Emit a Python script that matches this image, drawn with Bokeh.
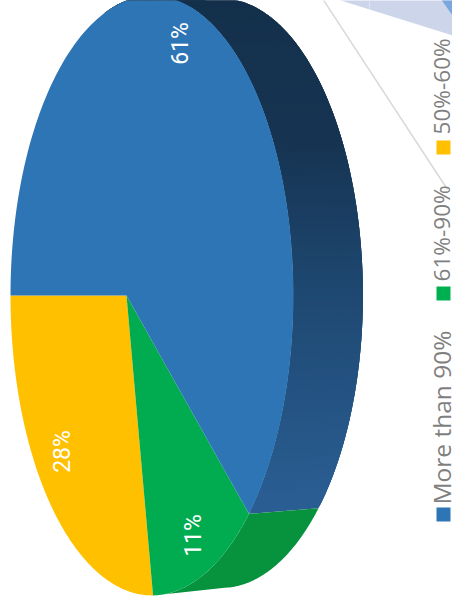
import numpy as np
from bokeh.models import ColumnDataSource, Range1d
from bokeh.plotting import figure
from bokeh.embed import file_html
from bokeh.resources import INLINE
from bokeh.core.properties import value as fixed

# Shares of respondents per band, in percent
categories = ["50%-60%", "61%-90%", "More than 90%"]
shares = [28, 11, 61]
share_labels = ["28%", "11%", "61%"]
top_colors = ["#FFC000", "#00AC4F", "#2E75B5"]
side_green = "#07933E"
side_blue_ramp = [(-10, (20, 48, 75)), (150, (22, 52, 82)), (300, (30, 72, 113)), (520, (43, 95, 149))]

legend_names = ["More than 90%", "61%-90%", "50%-60%"]
legend_colors = ["#2E75B5", "#00B050", "#FFC000"]
legend_bottom = [521, 300, 154]
legend_text_pos = [504, 281, 134]
label_pos = [(62, 451), (193, 535), (180, 43)]

W, H = 452, 610
p = figure(width=W, height=H, output_backend="svg", toolbar_location=None,
           x_range=Range1d(0, W), y_range=Range1d(H, 0), min_border=0,
           outline_line_color=None, background_fill_color="white", border_fill_color="white")
p.axis.visible = False
p.grid.visible = False

# Projection of the unit disc onto the tilted pie face
A, B, K, C, CY = 114.2, 126.0, -0.18, 295.0, 295.0
DX, SY_LOW, SY_HIGH = 69.5, 0.975, 0.99


def face(phi):
    x, y = -np.cos(phi), np.sin(phi)
    w = 1 + K * x
    return (A * x + B) / w, CY + C * y / w


def rim(phi):
    x, y = face(phi)
    return x + DX, CY + np.where(y > CY, SY_LOW, SY_HIGH) * (y - CY)


def ramp(y):
    ys = [s[0] for s in side_blue_ramp]
    rgb = [np.interp(y, ys, [s[1][i] for s in side_blue_ramp]) for i in range(3)]
    return "#%02x%02x%02x" % tuple(int(round(v)) for v in rgb)


edges = np.radians(np.cumsum([0] + shares) * 3.6)

# Pale slice and leader line of the neighbouring pie, cut by the page edge
p.patch([334, 452, 452, 334], [-2, 35, -2, -2], fill_color="#CDD5EA", line_color=None)
p.segment([369], [-2], [369], [8], line_color="#DDE3F1", line_width=1)
p.patch([440, 452, 452], [-2, 15, -2], fill_color="#7BA7DC", line_color=None)
p.segment([322], [-2], [447], [189], line_color="#D9D9D9", line_width=1.5)

# Side wall: the blue share as overlapping strips so the shading has no seams
step = np.radians(0.6)
ph = np.arange(edges[2], np.radians(278), step)
for a in ph[::-1]:
    b = a + 3 * step
    arc = np.linspace(a, b, 4)
    fx, fy = face(arc)
    rx, ry = rim(arc)
    p.patch(np.r_[fx, rx[::-1]], np.r_[fy, ry[::-1]], fill_color=ramp((fy[0] + ry[0]) / 2), line_color=None)

# Side wall of the green share, laid over the blue strip ends
ph = np.linspace(edges[1], edges[2], 60)
fx, fy = face(ph)
rx, ry = rim(ph)
p.patch(np.r_[fx, rx[::-1]], np.r_[fy, ry[::-1]], fill_color=side_green, line_color=None)

# Top face of the pie
for i, c in enumerate(top_colors):
    ph = np.linspace(edges[i], edges[i + 1], 150)
    x, y = face(ph)
    p.patch(np.r_[B, x], np.r_[CY, y], fill_color=c, line_color=None)

# Percentage labels
src = ColumnDataSource(dict(x=[q[0] for q in label_pos], y=[q[1] for q in label_pos], t=share_labels))
p.text("x", "y", text="t", source=src, angle=np.pi / 2, text_color="white",
       text_font=fixed("Roboto"), text_font_size="23px", text_align="center", text_baseline="middle")

# Legend swatches and names; the percent-only names run a little tighter
p.quad(left=[436] * 3, right=[450] * 3, top=[v - 14 for v in legend_bottom], bottom=legend_bottom,
       fill_color=legend_colors, line_color=None)
for idx, size in (([0], "24.5px"), ([1, 2], "22.6px")):
    src = ColumnDataSource(dict(x=[441] * len(idx), y=[legend_text_pos[i] for i in idx],
                                t=[legend_names[i] for i in idx]))
    p.text("x", "y", text="t", source=src, angle=np.pi / 2, text_color="#7F7F7F",
           text_font=fixed("Open Sans"), text_font_size=size, text_align="left", text_baseline="middle")

open("out.html", "w").write(file_html(p, INLINE))
